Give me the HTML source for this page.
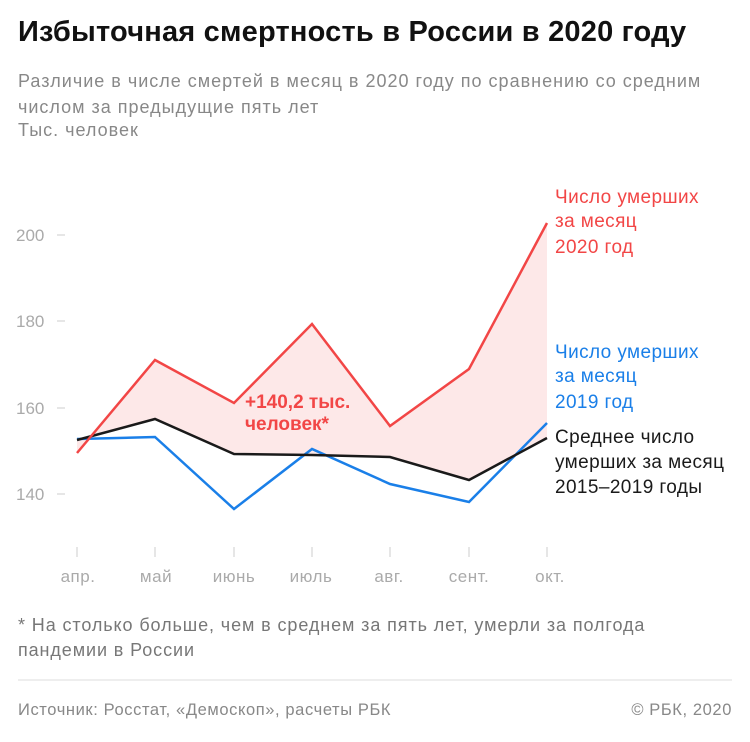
<!DOCTYPE html>
<html><head><meta charset="utf-8"><style>
body{margin:0;background:#fff;width:750px;height:742px;overflow:hidden;font-family:"Liberation Sans","DejaVu Sans",sans-serif}
.t{position:absolute;white-space:nowrap}
</style></head><body>
<div class="t" style="left:18px;top:16px;font-size:29px;font-weight:bold;color:#111;letter-spacing:0.2px">Избыточная смертность в России в 2020 году</div>
<div class="t" style="left:18px;top:68px;font-size:18px;color:#888;line-height:26px;letter-spacing:1px">Различие в числе смертей в месяц в 2020 году по сравнению со средним<br>числом за предыдущие пять лет</div>
<div class="t" style="left:18px;top:120px;font-size:18px;color:#888;letter-spacing:1px">Тыс. человек</div>
<svg width="750" height="742" style="position:absolute;left:0;top:0">
<g fill="#aaa" font-size="17" font-family="Liberation Sans,sans-serif">
<text x="16" y="241">200</text><text x="16" y="327">180</text><text x="16" y="414">160</text><text x="16" y="500">140</text>
</g>
<g stroke="#ccc" stroke-width="1">
<line x1="57" y1="235" x2="65" y2="235"/><line x1="57" y1="321" x2="65" y2="321"/><line x1="57" y1="408" x2="65" y2="408"/><line x1="57" y1="494" x2="65" y2="494"/>
<line x1="77" y1="547" x2="77" y2="557"/><line x1="155" y1="547" x2="155" y2="557"/><line x1="234" y1="547" x2="234" y2="557"/><line x1="312" y1="547" x2="312" y2="557"/><line x1="390" y1="547" x2="390" y2="557"/><line x1="469" y1="547" x2="469" y2="557"/><line x1="547" y1="547" x2="547" y2="557"/>
</g>
<g fill="#aaa" font-size="17" font-family="Liberation Sans,sans-serif" text-anchor="middle" letter-spacing="0.5">
<text x="78" y="582">апр.</text><text x="156" y="582">май</text><text x="234" y="582">июнь</text><text x="311" y="582">июль</text><text x="389" y="582">авг.</text><text x="469" y="582">сент.</text><text x="550" y="582">окт.</text>
</g>
<polygon fill="#fde8e8" points="77,453 155,360 234,403 312,324 390,426 469,369 547,223 547,438 469,480 390,457 312,455 234,454 155,419 77,440"/>
<polyline fill="none" stroke="#1a7fe8" stroke-width="2.5" points="77,439 155,437 234,509 312,449 390,484 469,502 547,423"/>
<polyline fill="none" stroke="#1a1a1a" stroke-width="2.5" points="77,440 155,419 234,454 312,455 390,457 469,480 547,438"/>
<polyline fill="none" stroke="#f24646" stroke-width="2.5" points="77,453 155,360 234,403 312,324 390,426 469,369 547,223"/>
<g font-size="19" font-weight="bold" fill="#f24646" font-family="Liberation Sans,sans-serif">
<text x="245" y="408">+140,2 тыс.</text><text x="245" y="430">человек*</text>
</g>
<g font-size="19" font-family="Liberation Sans,sans-serif" letter-spacing="0.4">
<text x="555" y="203" fill="#f24646">Число умерших</text><text x="555" y="227" fill="#f24646">за месяц</text><text x="555" y="253" fill="#f24646">2020 год</text>
<text x="555" y="358" fill="#1a7fe8">Число умерших</text><text x="555" y="382" fill="#1a7fe8">за месяц</text><text x="555" y="408" fill="#1a7fe8">2019 год</text>
<text x="555" y="443" fill="#1a1a1a">Среднее число</text><text x="555" y="468" fill="#1a1a1a">умерших за месяц</text><text x="555" y="493" fill="#1a1a1a">2015–2019 годы</text>
</g>
<line x1="18" y1="680" x2="732" y2="680" stroke="#ddd"/>
</svg>
<div class="t" style="left:18px;top:613px;font-size:18px;color:#777;line-height:25px;letter-spacing:0.9px">* На столько больше, чем в среднем за пять лет, умерли за полгода<br>пандемии в России</div>
<div class="t" style="left:18px;top:701px;font-size:16.5px;color:#888;letter-spacing:0.6px">Источник: Росстат, «Демоскоп», расчеты РБК</div>
<div class="t" style="right:18px;top:701px;font-size:16.5px;color:#888;letter-spacing:0.6px">© РБК, 2020</div>
</body></html>
